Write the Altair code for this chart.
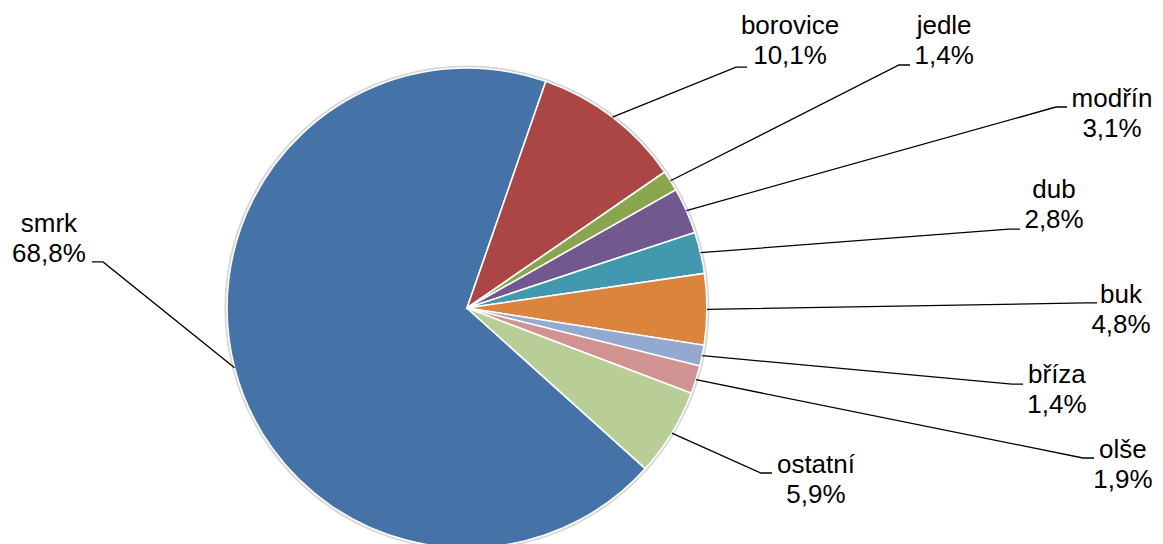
import math
import pandas as pd
import altair as alt

# ---- data -------------------------------------------------------------
names = ["smrk", "borovice", "jedle", "modřín", "dub", "buk", "bříza", "olše", "ostatní"]
shares = [68.8, 10.1, 1.4, 3.1, 2.8, 4.8, 1.4, 1.9, 5.9]
colors = ["#4572A7", "#AA4643", "#89A54E", "#71588F", "#4198AF",
          "#DB843D", "#93A9CF", "#D19392", "#B9CD96"]

# ---- label layout (units of pie radius, relative to the pie centre) ----
label_x = [-1.742, 1.346, 1.988, 2.6875, 2.446, 2.725, 2.458, 2.733, 1.454]
label_y = [0.317, 1.142, 1.142, 0.838, 0.458, 0.021, -0.313, -0.625, -0.688]
leader_end_x = [-1.5625, 1.167, 1.846, 2.50, 2.304, 2.625, 2.317, 2.6125, 1.271]
leader_end_y = [0.192, 1.004, 1.0125, 0.8375, 0.329, 0.021, -0.317, -0.625, -0.6875]
leader_side = [-1, 1, 1, 1, 1, 1, 1, 1, 1]
TAIL = 0.046
FIRST_SLICE_ANGLE = 132  # degrees, clockwise from 12 o'clock

# ---- geometry ---------------------------------------------------------
W, H = 1147, 536
CX, CY, R = 459, 300, 240     # pie centre / radius within the chart (px)
XS = alt.Scale(domain=[-CX / R, (W - CX) / R], nice=False, zero=False)
YS = alt.Scale(domain=[-(H - CY) / R, CY / R], nice=False, zero=False)
start = math.radians(FIRST_SLICE_ANGLE)
TS = alt.Scale(range=[start, start + 2 * math.pi])

total = sum(shares)
pcts = [f"{v:.1f}".replace(".", ",") + "%" for v in shares]
slices = pd.DataFrame({"name": names, "value": shares, "idx": range(len(names)), "pct": pcts})

rows = []
cum = 0.0
for i, (n, v) in enumerate(zip(names, shares)):
    mid = start + (cum + v / 2) / total * 2 * math.pi
    cum += v
    ex, ey = leader_end_x[i], leader_end_y[i]
    rows.append({"name": n, "pt": 0, "x": math.sin(mid), "y": math.cos(mid)})
    rows.append({"name": n, "pt": 1, "x": ex - leader_side[i] * TAIL, "y": ey})
    rows.append({"name": n, "pt": 2, "x": ex, "y": ey})
leaders = pd.DataFrame(rows)

labels = pd.DataFrame({"name": names, "pct": pcts, "lx": label_x, "ly": label_y})

FONT = "Liberation Sans"
FS = 26

shadow = alt.Chart(pd.DataFrame({"a": [0]})).mark_arc(
    radius=R + 2.5, theta=0, theta2=2 * math.pi, color="#cccccc", opacity=0.8
).encode(
    x=alt.XDatum(0, scale=XS, axis=None),
    y=alt.YDatum(0, scale=YS, axis=None),
)

pie = alt.Chart(slices).mark_arc(radius=R, stroke="white", strokeWidth=1.6).encode(
    theta=alt.Theta("value:Q", stack=True, scale=TS),
    color=alt.Color("name:N", scale=alt.Scale(domain=names, range=colors), legend=None),
    order=alt.Order("idx:Q", sort="ascending"),
    x=alt.XDatum(0, scale=XS, axis=None),
    y=alt.YDatum(0, scale=YS, axis=None),
)

lines = alt.Chart(leaders).mark_line(color="black", strokeWidth=1.3).encode(
    x=alt.X("x:Q", scale=XS, axis=None),
    y=alt.Y("y:Q", scale=YS, axis=None),
    detail="name:N",
    order="pt:Q",
)

names_txt = alt.Chart(labels).mark_text(
    font=FONT, fontSize=FS, align="center", baseline="alphabetic", color="black"
).encode(
    x=alt.X("lx:Q", scale=XS, axis=None),
    y=alt.Y("ly:Q", scale=YS, axis=None),
    text="name:N",
)

pct_txt = alt.Chart(labels).mark_text(
    font=FONT, fontSize=FS, align="center", baseline="alphabetic", color="black", dy=30
).encode(
    x=alt.X("lx:Q", scale=XS, axis=None),
    y=alt.Y("ly:Q", scale=YS, axis=None),
    text="pct:N",
)

chart = alt.layer(shadow, pie, lines, names_txt, pct_txt).properties(
    width=W, height=H, padding=0,
    autosize=alt.AutoSizeParams(type="none"),
).configure_view(stroke=None)

chart.save("out.html", embed_options={"renderer": "svg", "actions": False})
